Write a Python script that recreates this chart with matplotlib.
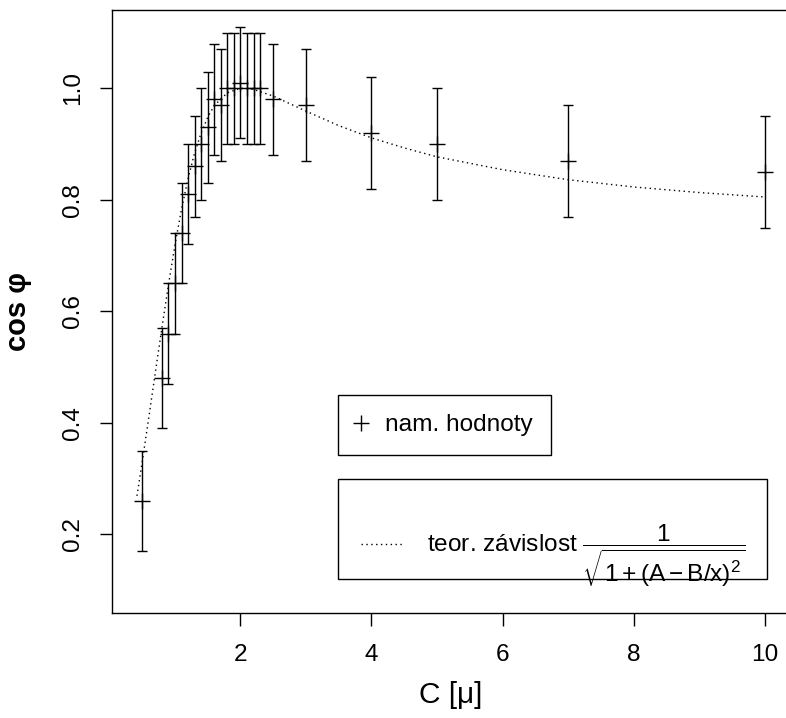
import matplotlib
matplotlib.use('Agg')
import matplotlib.pyplot as plt
from matplotlib.lines import Line2D
from matplotlib.patches import Rectangle

plt.rcParams['font.family'] = ['Liberation Sans', 'DejaVu Sans']
plt.rcParams['mathtext.fontset'] = 'custom'
plt.rcParams['mathtext.rm'] = 'Liberation Sans'
plt.rcParams['mathtext.it'] = 'Liberation Sans'
plt.rcParams['mathtext.bf'] = 'Liberation Sans:bold'

# measured values
C = [0.5, 0.8, 0.9, 1.0, 1.1, 1.2, 1.3, 1.4, 1.5, 1.6, 1.7, 1.8,
     1.9, 2.0, 2.1, 2.2, 2.3, 2.5, 3, 4, 5, 7, 10]
cos_phi = [0.26, 0.48, 0.56, 0.65, 0.74, 0.81, 0.86, 0.90, 0.93, 0.98, 0.97, 1.00,
           1.00, 1.01, 1.00, 1.00, 1.00, 0.98, 0.97, 0.92, 0.90, 0.87, 0.85]
err = [0.09, 0.09, 0.09, 0.09, 0.09, 0.09, 0.09, 0.10, 0.10, 0.10, 0.10, 0.10,
       0.10, 0.10, 0.10, 0.10, 0.10, 0.10, 0.10, 0.10, 0.10, 0.10, 0.10]

# theoretical curve
teor_x = [0.42, 0.5, 0.6, 0.7, 0.8, 0.9, 1.0, 1.1, 1.2, 1.3, 1.4, 1.5, 1.6, 1.8,
          2.0, 2.2, 2.5, 3, 3.5, 4, 4.5, 5, 6, 7, 8, 9, 10]
teor_y = [0.269, 0.330, 0.409, 0.490, 0.570, 0.647, 0.719, 0.783, 0.838, 0.884,
          0.920, 0.948, 0.969, 0.992, 1.000, 0.998, 0.986, 0.959, 0.933, 0.911,
          0.893, 0.877, 0.854, 0.836, 0.823, 0.813, 0.805]

xticks = [2, 4, 6, 8, 10]
yticks = [0.2, 0.4, 0.6, 0.8, 1.0]

fig = plt.figure(figsize=(7.86, 7.18), dpi=100)
ax = fig.add_axes([0.1421, 0.1458, 0.8625, 0.8403])

ax.plot(teor_x, teor_y, color='black', lw=1.0, linestyle=(0, (1, 2.5)))
ax.errorbar(C, cos_phi, yerr=err, fmt='+', color='black', ecolor='black',
            markersize=11, mew=1.0, elinewidth=1.0, capsize=3.3, capthick=1.0)

ax.set_xlim(0.034, 10.383)
ax.set_ylim(0.0583, 1.1404)
ax.set_xticks(xticks)
ax.set_xticklabels([str(t) for t in xticks])
ax.set_yticks(yticks)
ax.set_yticklabels(['%.1f' % t for t in yticks], rotation=90, va='center')
ax.tick_params(axis='both', direction='out', length=9, width=1.0, labelsize=17.6)
ax.tick_params(axis='x', pad=13)
ax.tick_params(axis='y', pad=10.8)
for s in ax.spines.values():
    s.set_linewidth(1.0)

ax.set_xlabel('C [μ]', fontsize=21.5)
ax.xaxis.set_label_coords(0.5, -0.113)
ax.set_ylabel('cos φ', fontsize=21, fontweight='bold')
ax.yaxis.set_label_coords(-0.118, 0.5)

# legends
h1 = Line2D([], [], color='black', marker='+', linestyle='None', markersize=11, mew=1.0)
leg1 = ax.legend([h1], ['nam. hodnoty'], loc='upper left', bbox_to_anchor=(0.3343, 0.3618),
                 borderaxespad=0, fancybox=False, edgecolor='black', framealpha=1,
                 borderpad=0.78, handlelength=0.27, handletextpad=0.84, fontsize=17.6)
leg1.get_frame().set_linewidth(1.0)
ax.add_artist(leg1)

h2 = Line2D([], [], color='black', lw=1.0, linestyle=(0, (1, 2.5)))
label2 = r'teor. závislost $\dfrac{1}{\sqrt{1+(A-B/x)^2}}$'
leg2 = ax.legend([h2], [label2], loc='center left', bbox_to_anchor=(0.3677, 0.0960),
                 borderaxespad=0, frameon=False, borderpad=0,
                 handlelength=1.77, handletextpad=0.95, fontsize=17.6)
ax.add_patch(Rectangle((0.3343, 0.0569), 0.6328, 0.1657, transform=ax.transAxes,
                       fill=False, edgecolor='black', lw=1.0))

fig.savefig('out.png', dpi=100)
